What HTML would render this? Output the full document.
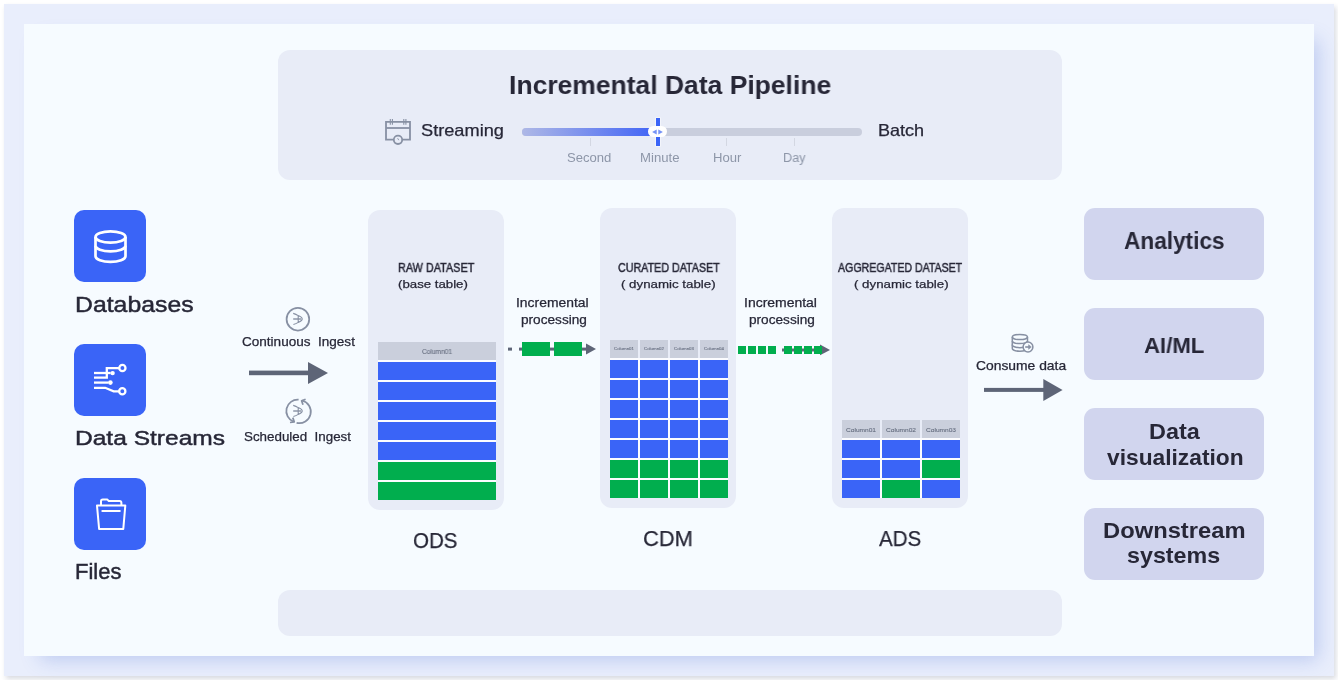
<!DOCTYPE html><html><head><meta charset="utf-8"><style>
html,body{margin:0;padding:0;}
body{width:1338px;height:680px;position:relative;overflow:hidden;background:#ffffff;font-family:"Liberation Sans",sans-serif;}
.r{position:absolute;}
.t{position:absolute;white-space:pre;will-change:transform;}
</style></head><body>
<div class="r" style="left:4px;top:4px;width:1330px;height:672px;background:#e9eefc;border-radius:0px;box-shadow:2px 3px 5px rgba(30,40,80,0.17);"></div>
<div class="r" style="left:24px;top:24px;width:1290px;height:632px;background:#f6fbff;border-radius:0px;box-shadow:10px 10px 18px -6px rgba(60,100,210,0.26);"></div>
<div class="r" style="left:278px;top:50px;width:784px;height:130px;background:#e8ecf7;border-radius:12px;"></div>
<div class="r" style="left:278px;top:590px;width:784px;height:46px;background:#e8ecf7;border-radius:12px;"></div>
<div class="r" style="left:522px;top:128px;width:340px;height:8px;background:#c9cedd;border-radius:4px;"></div>
<div class="r" style="left:522px;top:128px;width:136px;height:8px;background:linear-gradient(90deg,#aeb8e6,#3e62f6);border-radius:4px;"></div>
<div class="r" style="left:589.5px;top:138px;width:1px;height:8px;background:#d3d7e2;border-radius:0px;"></div>
<div class="r" style="left:725.5px;top:138px;width:1px;height:8px;background:#d3d7e2;border-radius:0px;"></div>
<div class="r" style="left:793.5px;top:138px;width:1px;height:8px;background:#d3d7e2;border-radius:0px;"></div>
<div class="r" style="left:656px;top:118px;width:4px;height:28px;background:#3a64f7;border-radius:0px;box-shadow:0 0 0 0.6px rgba(255,255,255,0.8);"></div>
<div class="r" style="left:648px;top:126.3px;width:19px;height:11px;background:#ffffff;border-radius:6px;"></div>
<svg class="r" style="left:648px;top:126px" width="19" height="12" viewBox="0 0 19 12"><path d="M8.7 3.4 L4.1 6 L8.7 8.6Z M10.3 3.4 L14.9 6 L10.3 8.6Z" fill="#7593f6"/></svg>
<svg class="r" style="left:380px;top:114px" width="36" height="36" viewBox="0 0 36 36" fill="none" stroke="#8790a3" stroke-width="1.8">
<path d="M22.5 25.6 H30 V7.8 H6 V25.6 H13.5" stroke-linejoin="miter"/><path d="M6 14 H30"/>
<path d="M10.3 5 V10.8 M12.4 5 V10.8 M23.8 5 V10.8 M25.9 5 V10.8" stroke-width="1.1"/>
<circle cx="18" cy="25.8" r="4.2"/><path d="M17.6 24.2 L18.8 26.2" stroke-width="0.9"/></svg>
<div class="r" style="left:74px;top:210px;width:72px;height:72px;background:#3a64f7;border-radius:10px;"></div>
<div class="r" style="left:74px;top:344px;width:72px;height:72px;background:#3a64f7;border-radius:10px;"></div>
<div class="r" style="left:74px;top:478px;width:72px;height:72px;background:#3a64f7;border-radius:10px;"></div>
<svg class="r" style="left:74px;top:210px" width="72" height="72" viewBox="0 0 72 72" fill="none" stroke="#fff" stroke-width="2.7">
<ellipse cx="36.5" cy="27" rx="15" ry="5.6"/>
<path d="M21.5 27 V46.2 A15 5.6 0 0 0 51.5 46.2 V27"/>
<path d="M21.5 35.7 A15 5.6 0 0 0 51.5 35.7"/></svg>
<svg class="r" style="left:88px;top:358px" width="44" height="44" viewBox="0 0 44 44" fill="none" stroke="#fff" stroke-width="2.3">
<path d="M6 15 H22.6"/><circle cx="24.6" cy="15.1" r="2.2" fill="#fff" stroke="none"/>
<path d="M6 19.7 H18.8 V10.2 H31"/><circle cx="34.4" cy="10" r="3.1"/>
<path d="M6 24.6 H20.5"/><circle cx="22.4" cy="24.6" r="2.3" fill="#fff" stroke="none"/>
<path d="M6 29.8 H17.2 L25.6 33.3 H31"/><circle cx="34.3" cy="33.3" r="3.1"/></svg>
<svg class="r" style="left:90px;top:492px" width="44" height="44" viewBox="0 0 44 44" fill="none" stroke="#fff" stroke-width="2" stroke-linejoin="round">
<path d="M7 13.6 H35.3 L33.3 36.9 H9.1 Z"/>
<path d="M11 13.6 V9.2 Q11 7.4 12.8 7.4 H17.2 L18.8 9.1 H29.6 Q31.4 9.1 31.4 11 V13.6"/>
<path d="M12.3 19 H29.8" stroke-linecap="round"/></svg>
<svg class="r" style="left:240px;top:355px" width="100" height="35" viewBox="0 0 100 35">
<rect x="9" y="15.6" width="62" height="4.6" fill="#5e6577"/><path d="M68 7 L88 18 L68 29 Z" fill="#5e6577"/></svg>
<svg class="r" style="left:282px;top:303px" width="32" height="32" viewBox="0 0 32 32" fill="none" stroke="#8790a3" stroke-width="1.75">
<circle cx="15.9" cy="16.2" r="11.3"/>
<path d="M11.2 10.4 Q14 11.2 16.2 12.6 V19.4 Q14 20.8 11.4 21.5 M16.2 12.6 Q20.4 14.6 20.2 16 Q20.4 17.4 16.2 19.4" stroke-width="1.1"/><path d="M11.2 16 H19.2" stroke-width="1.4"/></svg>
<svg class="r" style="left:282px;top:395px" width="32" height="32" viewBox="0 0 32 32" fill="none" stroke="#8790a3" stroke-width="1.75">
<path d="M16.6 4.7 A11.4 11.4 0 0 0 11.6 26.7"/>
<path d="M14.6 27.9 A11.4 11.4 0 0 0 20 5.5"/>
<path d="M8 27.5 L12.2 26.8 L10.8 22.6" stroke-linejoin="round"/>
<path d="M23.6 4.2 L19.6 5.7 L21 9.7" stroke-linejoin="round"/>
<path d="M11.2 10.4 Q14 11.2 16.2 12.6 V19.4 Q14 20.8 11.4 21.5 M16.2 12.6 Q20.4 14.6 20.2 16 Q20.4 17.4 16.2 19.4" stroke-width="1.1"/><path d="M11.2 16 H19.2" stroke-width="1.4"/></svg>
<div class="r" style="left:368px;top:210px;width:136px;height:300px;background:#e8ecf7;border-radius:12px;"></div>
<div class="r" style="left:600px;top:208px;width:136px;height:300px;background:#e8ecf7;border-radius:12px;"></div>
<div class="r" style="left:832px;top:208px;width:136px;height:300px;background:#e8ecf7;border-radius:12px;"></div>
<div class="r" style="left:378px;top:360px;width:118px;height:140px;background:#fbfcff;border-radius:0px;"></div>
<div class="r" style="left:378px;top:342px;width:118px;height:18px;background:#cacfdc;border-radius:0px;"></div>
<div class="r" style="left:378px;top:362px;width:118px;height:18px;background:#3a64f7;border-radius:0px;"></div>
<div class="r" style="left:378px;top:382px;width:118px;height:18px;background:#3a64f7;border-radius:0px;"></div>
<div class="r" style="left:378px;top:402px;width:118px;height:18px;background:#3a64f7;border-radius:0px;"></div>
<div class="r" style="left:378px;top:422px;width:118px;height:18px;background:#3a64f7;border-radius:0px;"></div>
<div class="r" style="left:378px;top:442px;width:118px;height:18px;background:#3a64f7;border-radius:0px;"></div>
<div class="r" style="left:378px;top:462px;width:118px;height:18px;background:#01ae4e;border-radius:0px;"></div>
<div class="r" style="left:378px;top:482px;width:118px;height:18px;background:#01ae4e;border-radius:0px;"></div>
<div class="r" style="left:610px;top:358px;width:118px;height:140px;background:#fbfcff;border-radius:0px;"></div>
<div class="r" style="left:610px;top:340px;width:28px;height:18px;background:#cacfdc;border-radius:0px;"></div>
<div class="r" style="left:610px;top:360px;width:28px;height:18px;background:#3a64f7;border-radius:0px;"></div>
<div class="r" style="left:610px;top:380px;width:28px;height:18px;background:#3a64f7;border-radius:0px;"></div>
<div class="r" style="left:610px;top:400px;width:28px;height:18px;background:#3a64f7;border-radius:0px;"></div>
<div class="r" style="left:610px;top:420px;width:28px;height:18px;background:#3a64f7;border-radius:0px;"></div>
<div class="r" style="left:610px;top:440px;width:28px;height:18px;background:#3a64f7;border-radius:0px;"></div>
<div class="r" style="left:610px;top:460px;width:28px;height:18px;background:#01ae4e;border-radius:0px;"></div>
<div class="r" style="left:610px;top:480px;width:28px;height:18px;background:#01ae4e;border-radius:0px;"></div>
<div class="r" style="left:640px;top:340px;width:28px;height:18px;background:#cacfdc;border-radius:0px;"></div>
<div class="r" style="left:640px;top:360px;width:28px;height:18px;background:#3a64f7;border-radius:0px;"></div>
<div class="r" style="left:640px;top:380px;width:28px;height:18px;background:#3a64f7;border-radius:0px;"></div>
<div class="r" style="left:640px;top:400px;width:28px;height:18px;background:#3a64f7;border-radius:0px;"></div>
<div class="r" style="left:640px;top:420px;width:28px;height:18px;background:#3a64f7;border-radius:0px;"></div>
<div class="r" style="left:640px;top:440px;width:28px;height:18px;background:#3a64f7;border-radius:0px;"></div>
<div class="r" style="left:640px;top:460px;width:28px;height:18px;background:#01ae4e;border-radius:0px;"></div>
<div class="r" style="left:640px;top:480px;width:28px;height:18px;background:#01ae4e;border-radius:0px;"></div>
<div class="r" style="left:670px;top:340px;width:28px;height:18px;background:#cacfdc;border-radius:0px;"></div>
<div class="r" style="left:670px;top:360px;width:28px;height:18px;background:#3a64f7;border-radius:0px;"></div>
<div class="r" style="left:670px;top:380px;width:28px;height:18px;background:#3a64f7;border-radius:0px;"></div>
<div class="r" style="left:670px;top:400px;width:28px;height:18px;background:#3a64f7;border-radius:0px;"></div>
<div class="r" style="left:670px;top:420px;width:28px;height:18px;background:#3a64f7;border-radius:0px;"></div>
<div class="r" style="left:670px;top:440px;width:28px;height:18px;background:#3a64f7;border-radius:0px;"></div>
<div class="r" style="left:670px;top:460px;width:28px;height:18px;background:#01ae4e;border-radius:0px;"></div>
<div class="r" style="left:670px;top:480px;width:28px;height:18px;background:#01ae4e;border-radius:0px;"></div>
<div class="r" style="left:700px;top:340px;width:28px;height:18px;background:#cacfdc;border-radius:0px;"></div>
<div class="r" style="left:700px;top:360px;width:28px;height:18px;background:#3a64f7;border-radius:0px;"></div>
<div class="r" style="left:700px;top:380px;width:28px;height:18px;background:#3a64f7;border-radius:0px;"></div>
<div class="r" style="left:700px;top:400px;width:28px;height:18px;background:#3a64f7;border-radius:0px;"></div>
<div class="r" style="left:700px;top:420px;width:28px;height:18px;background:#3a64f7;border-radius:0px;"></div>
<div class="r" style="left:700px;top:440px;width:28px;height:18px;background:#3a64f7;border-radius:0px;"></div>
<div class="r" style="left:700px;top:460px;width:28px;height:18px;background:#01ae4e;border-radius:0px;"></div>
<div class="r" style="left:700px;top:480px;width:28px;height:18px;background:#01ae4e;border-radius:0px;"></div>
<div class="r" style="left:842px;top:438px;width:118px;height:60px;background:#fbfcff;border-radius:0px;"></div>
<div class="r" style="left:842px;top:420px;width:38px;height:18px;background:#cacfdc;border-radius:0px;"></div>
<div class="r" style="left:842px;top:440px;width:38px;height:18px;background:#3a64f7;border-radius:0px;"></div>
<div class="r" style="left:842px;top:460px;width:38px;height:18px;background:#3a64f7;border-radius:0px;"></div>
<div class="r" style="left:842px;top:480px;width:38px;height:18px;background:#3a64f7;border-radius:0px;"></div>
<div class="r" style="left:882px;top:420px;width:38px;height:18px;background:#cacfdc;border-radius:0px;"></div>
<div class="r" style="left:882px;top:440px;width:38px;height:18px;background:#3a64f7;border-radius:0px;"></div>
<div class="r" style="left:882px;top:460px;width:38px;height:18px;background:#3a64f7;border-radius:0px;"></div>
<div class="r" style="left:882px;top:480px;width:38px;height:18px;background:#01ae4e;border-radius:0px;"></div>
<div class="r" style="left:922px;top:420px;width:38px;height:18px;background:#cacfdc;border-radius:0px;"></div>
<div class="r" style="left:922px;top:440px;width:38px;height:18px;background:#3a64f7;border-radius:0px;"></div>
<div class="r" style="left:922px;top:460px;width:38px;height:18px;background:#01ae4e;border-radius:0px;"></div>
<div class="r" style="left:922px;top:480px;width:38px;height:18px;background:#3a64f7;border-radius:0px;"></div>
<svg class="r" style="left:500px;top:335px" width="100" height="30" viewBox="0 0 100 30">
<rect x="8" y="12.6" width="4" height="3" fill="#5e6577"/>
<rect x="19" y="12.6" width="68" height="3" fill="#5e6577"/>
<rect x="22" y="7" width="28" height="14" fill="#01ae4e"/><rect x="54" y="7" width="28" height="14" fill="#01ae4e"/>
<path d="M86 8.5 L96 14.1 L86 19.6 Z" fill="#5e6577"/></svg>
<svg class="r" style="left:730px;top:335px" width="110" height="30" viewBox="0 0 110 30">
<rect x="52" y="13.5" width="38" height="3" fill="#5e6577"/>
<path d="M90 9.4 L100 15 L90 20.2 Z" fill="#5e6577"/><rect x="8" y="11" width="8" height="8" fill="#01ae4e"/><rect x="18" y="11" width="8" height="8" fill="#01ae4e"/><rect x="28" y="11" width="8" height="8" fill="#01ae4e"/><rect x="38" y="11" width="8" height="8" fill="#01ae4e"/><rect x="54" y="11" width="8" height="8" fill="#01ae4e"/><rect x="64" y="11" width="8" height="8" fill="#01ae4e"/><rect x="74" y="11" width="8" height="8" fill="#01ae4e"/><rect x="84" y="11" width="8" height="8" fill="#01ae4e"/></svg>
<svg class="r" style="left:1006px;top:328px" width="32" height="32" viewBox="0 0 32 32" fill="none" stroke="#8790a3" stroke-width="1.5">
<ellipse cx="13.9" cy="9" rx="7.6" ry="2.6"/>
<path d="M6.3 9 V20.6 A7.6 2.6 0 0 0 21.5 20.6 V9"/>
<path d="M6.3 13 A7.6 2.6 0 0 0 21.5 13 M6.3 16.8 A7.6 2.6 0 0 0 18 19.2"/>
<circle cx="22" cy="19" r="4.9" fill="#f6fbff"/>
<path d="M19.2 19 H23.4" stroke-width="1.6"/><path d="M22.6 16.7 L25.3 19 L22.6 21.3 Z" fill="#8790a3" stroke-width="0.6"/></svg>
<svg class="r" style="left:980px;top:375px" width="90" height="30" viewBox="0 0 90 30">
<rect x="4" y="12.9" width="62" height="4" fill="#5e6577"/><path d="M63.3 4 L82.6 14.9 L63.3 26 Z" fill="#5e6577"/></svg>
<div class="r" style="left:1084px;top:208px;width:180px;height:72px;background:#d1d5ee;border-radius:11px;"></div>
<div class="r" style="left:1084px;top:308px;width:180px;height:72px;background:#d1d5ee;border-radius:11px;"></div>
<div class="r" style="left:1084px;top:408px;width:180px;height:72px;background:#d1d5ee;border-radius:11px;"></div>
<div class="r" style="left:1084px;top:508px;width:180px;height:72px;background:#d1d5ee;border-radius:11px;"></div>
<div class="t" style="left:509.40px;top:70px;font-size:26.60px;line-height:30px;transform:scaleX(0.9953);transform-origin:0.00px 0;color:#272737;font-weight:700;">Incremental Data Pipeline</div>
<div class="t" style="left:421.00px;top:121px;font-size:16.72px;line-height:19px;transform:scaleX(1.0894);transform-origin:0.00px 0;color:#272737;-webkit-text-stroke:0.25px #272737;">Streaming</div>
<div class="t" style="left:878.40px;top:121px;font-size:16.28px;line-height:18px;transform:scaleX(1.1099);transform-origin:0.00px 0;color:#272737;-webkit-text-stroke:0.25px #272737;">Batch</div>
<div class="t" style="left:566.50px;top:150px;font-size:13.08px;line-height:15px;transform:scaleX(0.9916);transform-origin:0.00px 0;color:#8d96a8;">Second</div>
<div class="t" style="left:639.50px;top:150px;font-size:13.08px;line-height:15px;transform:scaleX(1.0062);transform-origin:0.00px 0;color:#8d96a8;">Minute</div>
<div class="t" style="left:713.00px;top:150px;font-size:13.08px;line-height:15px;transform:scaleX(0.9873);transform-origin:0.00px 0;color:#8d96a8;">Hour</div>
<div class="t" style="left:782.50px;top:150px;font-size:13.08px;line-height:15px;transform:scaleX(0.9674);transform-origin:0.00px 0;color:#8d96a8;">Day</div>
<div class="t" style="left:75.00px;top:292px;font-size:22.24px;line-height:25px;transform:scaleX(1.1155);transform-origin:0.00px 0;color:#272737;-webkit-text-stroke:0.45px #272737;">Databases</div>
<div class="t" style="left:75.00px;top:426px;font-size:21.08px;line-height:23px;transform:scaleX(1.1643);transform-origin:0.00px 0;color:#272737;-webkit-text-stroke:0.45px #272737;">Data Streams</div>
<div class="t" style="left:75.00px;top:559px;font-size:21.80px;line-height:25px;transform:scaleX(1.0082);transform-origin:0.00px 0;color:#272737;-webkit-text-stroke:0.45px #272737;">Files</div>
<div class="t" style="left:241.80px;top:335px;font-size:12.50px;line-height:14px;transform:scaleX(1.0831);transform-origin:0.00px 0;color:#272737;-webkit-text-stroke:0.25px #272737;">Continuous  Ingest</div>
<div class="t" style="left:244.00px;top:429px;font-size:12.94px;line-height:15px;transform:scaleX(1.0332);transform-origin:0.00px 0;color:#272737;-webkit-text-stroke:0.25px #272737;">Scheduled  Ingest</div>
<div class="t" style="left:397.60px;top:261px;font-size:12.06px;line-height:14px;transform:scaleX(0.8999);transform-origin:0.00px 0;color:#272737;-webkit-text-stroke:0.45px #272737;">RAW DATASET</div>
<div class="t" style="left:397.60px;top:277px;font-size:11.63px;line-height:13px;transform:scaleX(1.1383);transform-origin:0.00px 0;color:#272737;-webkit-text-stroke:0.25px #272737;">(base table)</div>
<div class="t" style="left:617.50px;top:261px;font-size:12.06px;line-height:14px;transform:scaleX(0.8890);transform-origin:0.00px 0;color:#272737;-webkit-text-stroke:0.45px #272737;">CURATED DATASET</div>
<div class="t" style="left:621.30px;top:277px;font-size:11.63px;line-height:13px;transform:scaleX(1.1436);transform-origin:0.00px 0;color:#272737;-webkit-text-stroke:0.25px #272737;">( dynamic table)</div>
<div class="t" style="left:838.40px;top:261px;font-size:12.06px;line-height:14px;transform:scaleX(0.8795);transform-origin:0.00px 0;color:#272737;-webkit-text-stroke:0.45px #272737;">AGGREGATED DATASET</div>
<div class="t" style="left:853.60px;top:277px;font-size:11.63px;line-height:13px;transform:scaleX(1.1436);transform-origin:0.00px 0;color:#272737;-webkit-text-stroke:0.25px #272737;">( dynamic table)</div>
<div class="t" style="left:412.60px;top:528px;font-size:22.09px;line-height:25px;transform:scaleX(0.9295);transform-origin:0.00px 0;color:#272737;-webkit-text-stroke:0.25px #272737;">ODS</div>
<div class="t" style="left:642.60px;top:526px;font-size:22.53px;line-height:25px;transform:scaleX(0.9727);transform-origin:0.00px 0;color:#272737;-webkit-text-stroke:0.25px #272737;">CDM</div>
<div class="t" style="left:879.00px;top:526px;font-size:22.53px;line-height:25px;transform:scaleX(0.9132);transform-origin:0.00px 0;color:#272737;-webkit-text-stroke:0.25px #272737;">ADS</div>
<div class="t" style="left:515.60px;top:296px;font-size:12.65px;line-height:14px;transform:scaleX(1.0988);transform-origin:0.00px 0;color:#272737;-webkit-text-stroke:0.25px #272737;">Incremental</div>
<div class="t" style="left:520.60px;top:313px;font-size:12.65px;line-height:14px;transform:scaleX(1.0776);transform-origin:0.00px 0;color:#272737;-webkit-text-stroke:0.25px #272737;">processing</div>
<div class="t" style="left:743.50px;top:296px;font-size:12.65px;line-height:14px;transform:scaleX(1.1049);transform-origin:0.00px 0;color:#272737;-webkit-text-stroke:0.25px #272737;">Incremental</div>
<div class="t" style="left:748.60px;top:313px;font-size:12.65px;line-height:14px;transform:scaleX(1.0776);transform-origin:0.00px 0;color:#272737;-webkit-text-stroke:0.25px #272737;">processing</div>
<div class="t" style="left:976.00px;top:359px;font-size:11.92px;line-height:14px;transform:scaleX(1.1634);transform-origin:0.00px 0;color:#272737;-webkit-text-stroke:0.25px #272737;">Consume data</div>
<div class="t" style="left:1124.40px;top:228px;font-size:23.55px;line-height:26px;transform:scaleX(0.9610);transform-origin:0.00px 0;color:#272737;font-weight:700;">Analytics</div>
<div class="t" style="left:1144.00px;top:332px;font-size:22.67px;line-height:26px;transform:scaleX(0.9786);transform-origin:0.00px 0;color:#272737;font-weight:700;">AI/ML</div>
<div class="t" style="left:1149.40px;top:420px;font-size:21.37px;line-height:24px;transform:scaleX(1.0958);transform-origin:0.00px 0;color:#272737;font-weight:700;">Data</div>
<div class="t" style="left:1106.80px;top:445px;font-size:22.09px;line-height:25px;transform:scaleX(1.0311);transform-origin:0.00px 0;color:#272737;font-weight:700;">visualization</div>
<div class="t" style="left:1103.00px;top:518px;font-size:22.09px;line-height:25px;transform:scaleX(1.0756);transform-origin:0.00px 0;color:#272737;font-weight:700;">Downstream</div>
<div class="t" style="left:1127.40px;top:543px;font-size:22.09px;line-height:25px;transform:scaleX(1.0538);transform-origin:0.00px 0;color:#272737;font-weight:700;">systems</div>
<div class="t" style="left:421.90px;top:348px;font-size:6.98px;line-height:7px;transform:scaleX(0.9434);transform-origin:0.00px 0;color:#646c7e;-webkit-text-stroke:0.1px #646c7e;">Column01</div>
<div class="t" style="left:614.00px;top:346px;font-size:4.36px;line-height:5px;transform:scaleX(1.0063);transform-origin:0.00px 0;color:#646c7e;-webkit-text-stroke:0.1px #646c7e;">Column01</div>
<div class="t" style="left:644.00px;top:346px;font-size:4.36px;line-height:5px;transform:scaleX(1.0063);transform-origin:0.00px 0;color:#646c7e;-webkit-text-stroke:0.1px #646c7e;">Column02</div>
<div class="t" style="left:674.00px;top:346px;font-size:4.36px;line-height:5px;transform:scaleX(1.0063);transform-origin:0.00px 0;color:#646c7e;-webkit-text-stroke:0.1px #646c7e;">Column03</div>
<div class="t" style="left:704.00px;top:346px;font-size:4.36px;line-height:5px;transform:scaleX(1.0063);transform-origin:0.00px 0;color:#646c7e;-webkit-text-stroke:0.1px #646c7e;">Column04</div>
<div class="t" style="left:846.00px;top:426px;font-size:6.25px;line-height:7px;transform:scaleX(1.0531);transform-origin:0.00px 0;color:#646c7e;-webkit-text-stroke:0.1px #646c7e;">Column01</div>
<div class="t" style="left:886.00px;top:426px;font-size:6.25px;line-height:7px;transform:scaleX(1.0531);transform-origin:0.00px 0;color:#646c7e;-webkit-text-stroke:0.1px #646c7e;">Column02</div>
<div class="t" style="left:926.00px;top:426px;font-size:6.25px;line-height:7px;transform:scaleX(1.0531);transform-origin:0.00px 0;color:#646c7e;-webkit-text-stroke:0.1px #646c7e;">Column03</div>
</body></html>
